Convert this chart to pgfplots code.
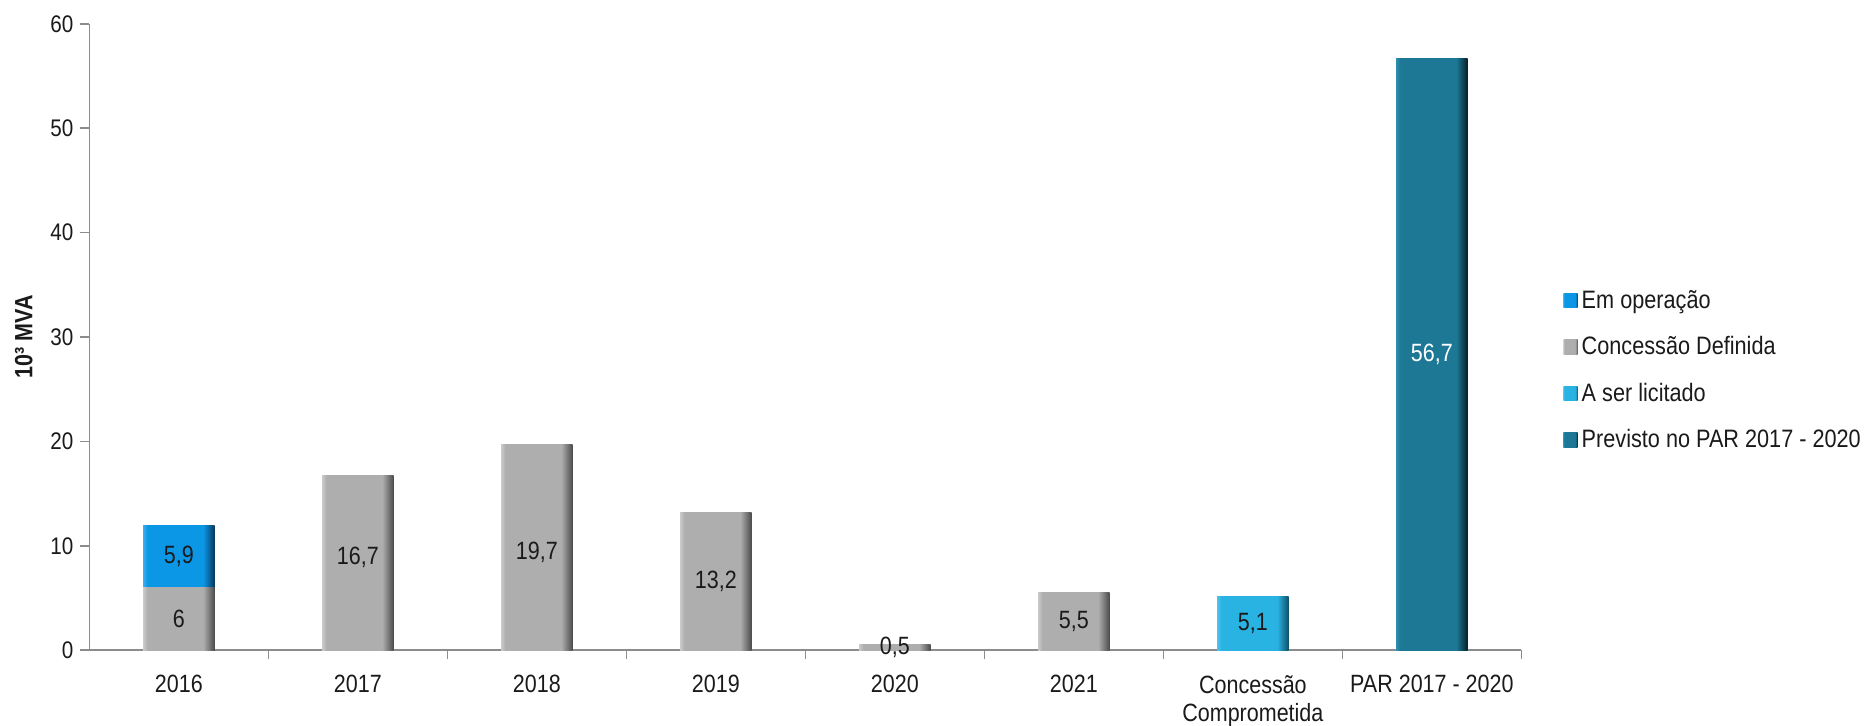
\documentclass[border=0pt]{standalone}
\usepackage{fontspec}
\setmainfont{Liberation Sans}[FakeStretch=0.86]
\usepackage{pgfplots}
\pgfplotsset{compat=1.18}
\definecolor{axgray}{HTML}{8C8C8C}
\definecolor{txt}{HTML}{1A1A1A}
\definecolor{grayL}{HTML}{CACACA}
\definecolor{grayM}{HTML}{AEAEAE}
\definecolor{grayD}{HTML}{4A4A4A}
\definecolor{blueL}{HTML}{3AAEF0}
\definecolor{blueM}{HTML}{0C96E6}
\definecolor{blueD}{HTML}{06365A}
\definecolor{cyanL}{HTML}{4CC4EC}
\definecolor{cyanM}{HTML}{29B3E3}
\definecolor{cyanD}{HTML}{0E4F66}
\definecolor{tealL}{HTML}{2E8EAE}
\definecolor{tealM}{HTML}{1D7896}
\definecolor{tealD}{HTML}{061E28}
\pgfdeclarehorizontalshading{shgray}{100bp}{color(0bp)=(grayL); color(25bp)=(grayL); color(28bp)=(grayM); color(67bp)=(grayM); color(75bp)=(grayD); color(100bp)=(grayD)}
\pgfdeclarehorizontalshading{shblue}{100bp}{color(0bp)=(blueL); color(25bp)=(blueL); color(28bp)=(blueM); color(67bp)=(blueM); color(75bp)=(blueD); color(100bp)=(blueD)}
\pgfdeclarehorizontalshading{shcyan}{100bp}{color(0bp)=(cyanL); color(25bp)=(cyanL); color(28bp)=(cyanM); color(67bp)=(cyanM); color(75bp)=(cyanD); color(100bp)=(cyanD)}
\pgfdeclarehorizontalshading{shteal}{100bp}{color(0bp)=(tealL); color(25bp)=(tealL); color(28bp)=(tealM); color(67bp)=(tealM); color(75bp)=(tealD); color(100bp)=(tealD)}
\begin{document}
\begin{tikzpicture}
\useasboundingbox (-44.7pt,-37.6pt) rectangle (890.8pt,325.1pt);
\begin{axis}[
  at={(0,0)}, anchor=south west,
  scale only axis, width=716pt, height=313.2pt,
  xmin=-0.5, xmax=7.5, ymin=0, ymax=60,
  ytick={0,10,...,60},
  xtick={0.5,1.5,...,7.5}, xticklabels={},
  extra x ticks={0,1,...,7},
  extra x tick labels={2016,2017,2018,2019,2020,2021,{Concessão\\Comprometida},PAR 2017 - 2020},
  extra x tick style={major tick length=0pt},
  xticklabel style={align=center, font=\fontsize{12.5}{14.2}\selectfont, text=txt, yshift=-9pt},
  yticklabel style={font=\fontsize{12}{14}\selectfont, text=txt},
  /pgf/number format/assume math mode=true,
  axis lines*=left,
  axis line style={axgray, line width=0.8pt},
  tick style={axgray, line width=0.8pt},
  tick align=outside,
  major tick length=4.5pt,
  ylabel={\fontsize{12.5}{14}\selectfont\bfseries 10³ MVA},
  ylabel style={text=txt, yshift=2pt},
  legend style={at={(1.029,0.582)}, anchor=north west, draw=none, fill=none,
    font=\fontsize{12.6}{14.5}\selectfont, text=txt, row sep=8.6pt, inner xsep=0pt, inner ysep=0pt,
    /tikz/every even column/.append style={column sep=3pt}},
  legend cell align=left,
  mybar/.style={ybar, bar width=35.8pt, bar shift=0pt, draw=none, shade,
    legend image code/.code={\path[##1] (0pt,-3.6pt) rectangle (7.2pt,3.6pt);}},
  clip=false,
]
\addplot[mybar, shading=shblue] coordinates {(0,11.9)};
\addplot[mybar, shading=shgray] coordinates {(0,6)};
\addplot[mybar, shading=shgray, forget plot] coordinates {(1,16.7)};
\addplot[mybar, shading=shgray, forget plot] coordinates {(2,19.7)};
\addplot[mybar, shading=shgray, forget plot] coordinates {(3,13.2)};
\addplot[mybar, shading=shgray, forget plot] coordinates {(4,0.5)};
\addplot[mybar, shading=shgray, forget plot] coordinates {(5,5.5)};
\addplot[mybar, shading=shcyan] coordinates {(6,5.1)};
\addplot[mybar, shading=shteal] coordinates {(7,56.7)};
\legend{Em operação, Concessão Definida, A ser licitado, Previsto no PAR 2017 - 2020}
\addplot[forget plot, draw=none, mark=none, nodes near coords, point meta=explicit symbolic,
  every node near coord/.append style={anchor=center, text=txt, font=\fontsize{12.5}{15}\selectfont}]
  coordinates {(0,3)[6] (0,8.95)[5,9] (1,8.9)[16,7] (2,9.4)[19,7] (3,6.6)[13,2] (4,0.25)[0,5] (5,2.75)[5,5] (6,2.55)[5,1]};
\addplot[forget plot, draw=none, mark=none, nodes near coords, point meta=explicit symbolic,
  every node near coord/.append style={anchor=center, text=white, font=\fontsize{12.5}{15}\selectfont}]
  coordinates {(7,28.35)[56,7]};
\end{axis}
\end{tikzpicture}
\end{document}
